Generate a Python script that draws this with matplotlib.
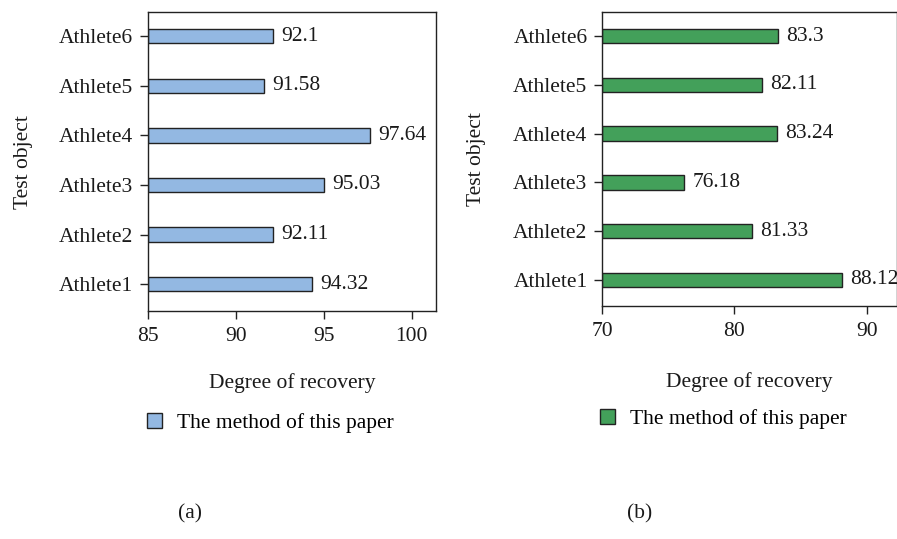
import matplotlib
matplotlib.use("Agg")
import matplotlib.pyplot as plt
import numpy as np

plt.rcParams['font.family'] = ['Liberation Serif', 'DejaVu Serif']
plt.rcParams['font.size'] = 15

# data
athletes = ['Athlete1', 'Athlete2', 'Athlete3', 'Athlete4', 'Athlete5', 'Athlete6']
values_a = [94.32, 92.11, 95.03, 97.64, 91.58, 92.1]
values_b = [88.12, 81.33, 76.18, 83.24, 82.11, 83.3]
labels_a = ['94.32', '92.11', '95.03', '97.64', '91.58', '92.1']
labels_b = ['88.12', '81.33', '76.18', '83.24', '82.11', '83.3']
ticks_a = [85, 90, 95, 100]
ticks_b = [70, 80, 90]
legend_label = 'The method of this paper'

fig = plt.figure(figsize=(8.97, 5.39), dpi=100)
W, H = 897, 539


def px_axes(x0, y0, x1, y1):
    # pixel box (top-left origin) -> figure fraction axes
    return fig.add_axes([x0 / W, 1 - y1 / H, (x1 - x0) / W, (y1 - y0) / H])


def panel(ax, vals, labels, base, xmax, ticks, color, bar_h, ylim, leg_xy):
    y = np.arange(len(athletes))
    bars = ax.barh(y, np.array(vals) - base, left=base, height=bar_h,
                   color=color, edgecolor='#222222', linewidth=1.0,
                   label=legend_label)
    for b, t in zip(bars, labels):
        ax.annotate(t, (b.get_x() + b.get_width(), b.get_y() + b.get_height() / 2),
                    xytext=(6, 0), textcoords='offset points',
                    ha='left', va='center', fontsize=15.5, color='#1a1a1a')
    ax.set_xlim(base, xmax)
    ax.set_ylim(*ylim)
    ax.set_xticks(ticks)
    ax.set_yticks(y)
    ax.set_yticklabels(athletes)
    ax.tick_params(axis='both', direction='out', length=5.5, width=1.0,
                   color='#222222', labelcolor='#1a1a1a', labelsize=15.5)
    ax.tick_params(axis='y', pad=5)
    ax.tick_params(axis='x', pad=6)
    for s in ax.spines.values():
        s.set_linewidth(1.0)
        s.set_color('#222222')
    ax.set_xlabel('Degree of recovery', fontsize=15.5, color='#1a1a1a')
    ax.set_ylabel('Test object', fontsize=15.5, color='#1a1a1a')
    ax.legend(loc='center left', bbox_to_anchor=(leg_xy[0] / W, 1 - leg_xy[1] / H),
              bbox_transform=fig.transFigure, frameon=False, fontsize=15.5,
              handlelength=0.7, handleheight=0.7, handletextpad=0.7,
              borderpad=0, borderaxespad=0)


ax1 = px_axes(147.7, 12.3, 436, 311)
panel(ax1, values_a, labels_a, 85, 101.38, ticks_a, '#93B8E2', 0.29,
      (-0.54, 5.48), (147, 423))
ax1.xaxis.set_label_coords(0.5, -0.24)
ax1.xaxis.label.set_verticalalignment('center')
ax1.yaxis.set_label_coords(-0.43, 0.5)
ax1.yaxis.label.set_verticalalignment('center')

ax2 = px_axes(602, 12.3, 896.5, 305.7)
panel(ax2, values_b, labels_b, 70, 92.25, ticks_b, '#43A05A', 0.30,
      (-0.53, 5.49), (600, 419))
ax2.xaxis.set_label_coords(0.5, -0.26)
ax2.xaxis.label.set_verticalalignment('center')
ax2.yaxis.set_label_coords(-0.425, 0.5)
ax2.yaxis.label.set_verticalalignment('center')

fig.text(190 / W, 1 - 514 / H, '(a)', ha='center', va='center', fontsize=15.5, color='#1a1a1a')
fig.text(640 / W, 1 - 514 / H, '(b)', ha='center', va='center', fontsize=15.5, color='#1a1a1a')

fig.savefig('out.png', dpi=100)
